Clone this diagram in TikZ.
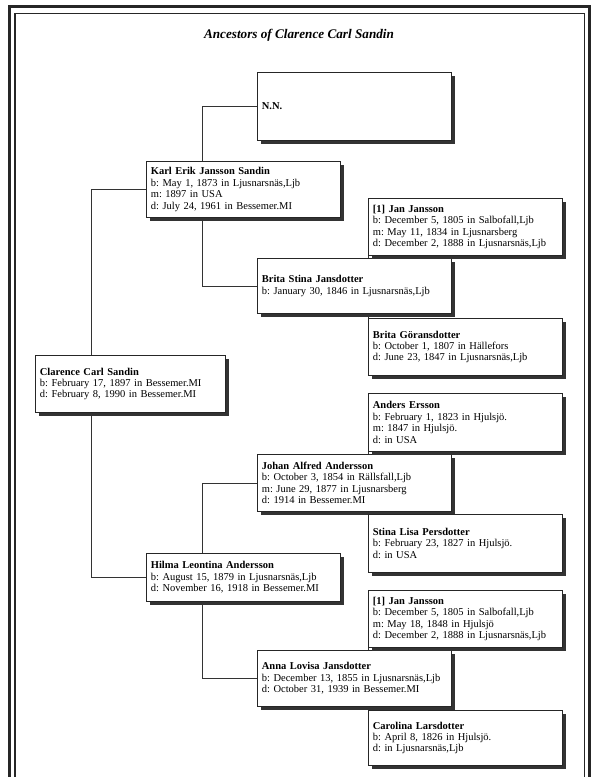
\documentclass[tikz,border=0pt]{standalone}
\usepackage{fontspec}
\setmainfont{Liberation Serif}
\usetikzlibrary{shadows,backgrounds}
\frenchspacing

\begin{document}
\begin{tikzpicture}
  [x=1pt,y=-1pt,
   pbox/.style={draw=black!85, line width=0.8pt, fill=white, anchor=north west,
     text width=185pt, inner xsep=4.5pt, inner ysep=2pt, align=left,
     font=\fontsize{10.5}{11.4}\selectfont,
     drop shadow={shadow xshift=3.8pt, shadow yshift=-3.8pt, fill=black!80, opacity=1}},
   link/.style={draw=black!80, line width=0.8pt}]
  \useasboundingbox (0,0) rectangle (600,777);

  % page frame
  \draw[line width=3pt, black!85] (9,777) -- (9,6) -- (589.5,6) -- (589.5,777);
  \draw[line width=1.3pt, black!85] (15,777) -- (15,13.5) -- (584.5,13.5) -- (584.5,777);

  \node (title) at (299,35) {\fontsize{13.2}{15}\selectfont\bfseries\itshape Ancestors of Clarence Carl Sandin};

  \node[pbox, minimum height=57, text width=181pt] (p1) at (35,355)
    {\textbf{Clarence Carl Sandin}\\b: February 17, 1897 in Bessemer.MI\\d: February 8, 1990 in Bessemer.MI};

   \node[pbox, minimum height=56] (p2) at (146,161)
     {\textbf{Karl Erik Jansson Sandin}\\b: May 1, 1873 in Ljusnarsnäs,Ljb\\m: 1897 in USA\\d: July 24, 1961 in Bessemer.MI};
   \node[pbox, minimum height=48] (p3) at (146,553)
     {\textbf{Hilma Leontina Andersson}\\b: August 15, 1879 in Ljusnarsnäs,Ljb\\d: November 16, 1918 in Bessemer.MI};

   \node[pbox, minimum height=68] (p4) at (257,72) {\textbf{N.N.}};
   \node[pbox, minimum height=55] (p5) at (257,258)
     {\textbf{Brita Stina Jansdotter}\\b: January 30, 1846 in Ljusnarsnäs,Ljb};
   \node[pbox, minimum height=57] (p6) at (257,454)
     {\textbf{Johan Alfred Andersson}\\b: October 3, 1854 in Rällsfall,Ljb\\m: June 29, 1877 in Ljusnarsberg\\d: 1914 in Bessemer.MI};
   \node[pbox, minimum height=56] (p7) at (257,650)
     {\textbf{Anna Lovisa Jansdotter}\\b: December 13, 1855 in Ljusnarsnäs,Ljb\\d: October 31, 1939 in Bessemer.MI};

     \node[pbox, minimum height=57] (p10) at (368,198)
       {\textbf{[1] Jan Jansson}\\b: December 5, 1805 in Salbofall,Ljb\\m: May 11, 1834 in Ljusnarsberg\\d: December 2, 1888 in Ljusnarsnäs,Ljb};
     \node[pbox, minimum height=57] (p11) at (368,318)
       {\textbf{Brita Göransdotter}\\b: October 1, 1807 in Hällefors\\d: June 23, 1847 in Ljusnarsnäs,Ljb};
     \node[pbox, minimum height=58] (p12) at (368,393)
       {\textbf{Anders Ersson}\\b: February 1, 1823 in Hjulsjö.\\m: 1847 in Hjulsjö.\\d: in USA};
     \node[pbox, minimum height=58] (p13) at (368,514)
       {\textbf{Stina Lisa Persdotter}\\b: February 23, 1827 in Hjulsjö.\\d: in USA};
     \node[pbox, minimum height=57] (p14) at (368,590)
       {\textbf{[1] Jan Jansson}\\b: December 5, 1805 in Salbofall,Ljb\\m: May 18, 1848 in Hjulsjö\\d: December 2, 1888 in Ljusnarsnäs,Ljb};
     \node[pbox, minimum height=55] (p15) at (368,710)
       {\textbf{Carolina Larsdotter}\\b: April 8, 1826 in Hjulsjö.\\d: in Ljusnarsnäs,Ljb};

  \begin{scope}[on background layer]
  \foreach \fa/\mo/\dx in {p2/p3/55, p4/p5/55, p6/p7/55, p10/p11/0, p12/p13/0, p14/p15/0}
      \draw[link] (\fa.west) -- ++(-\dx,0) |- (\mo.west);
  \end{scope}
\end{tikzpicture}
\end{document}
